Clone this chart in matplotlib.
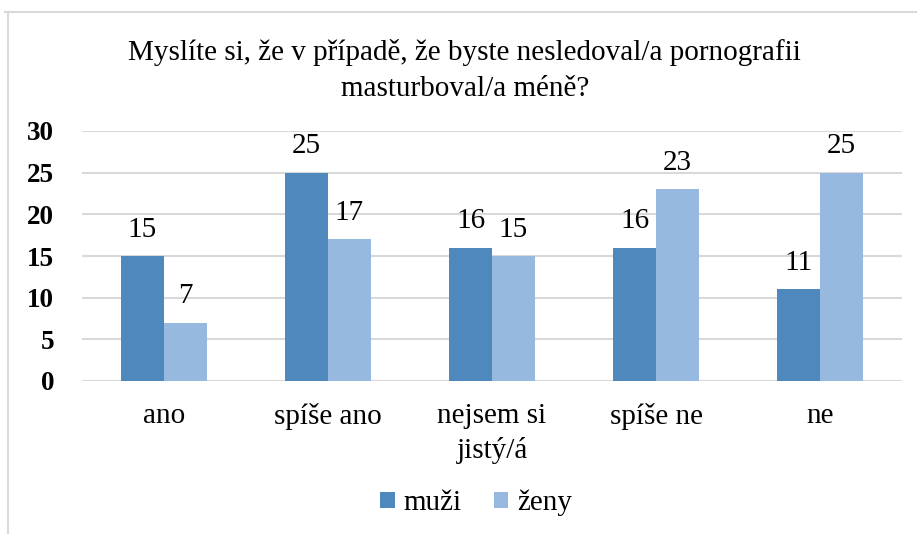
import numpy as np
import matplotlib.pyplot as plt
from matplotlib.lines import Line2D

# === Data ===
categories = ["ano", "spíše ano", "nejsem si\njistý/á", "spíše ne", "ne"]
muzi = [15, 25, 16, 16, 11]
zeny = [7, 17, 15, 23, 25]
yticks = [0, 5, 10, 15, 20, 25, 30]

TITLE = "Myslíte si, že v případě, že byste nesledoval/a pornografii\nmasturboval/a méně?"
C_MUZI = "#4F88BD"
C_ZENY = "#97B8DF"
GRID = "#D9D9D9"
FS = 21

plt.rcParams['font.family'] = ['Liberation Serif', 'DejaVu Serif']

fig = plt.figure(figsize=(9.17, 5.35), dpi=100)
ax = fig.add_axes([82 / 917, 1 - 381 / 535, 820 / 917, 250 / 535])

x = np.arange(len(categories))
w = 0.262
b1 = ax.bar(x - w / 2, muzi, w, color=C_MUZI, label="muži", zorder=3)
b2 = ax.bar(x + w / 2, zeny, w, color=C_ZENY, label="ženy", zorder=3)

for bars, vals in ((b1, muzi), (b2, zeny)):
    for rect, v in zip(bars, vals):
        ax.text(rect.get_x() + rect.get_width() / 2, v + 1.6, str(v),
                ha="center", va="bottom", fontsize=FS)

ax.set_xlim(-0.5, len(categories) - 0.5)
ax.set_ylim(0, 30)
ax.set_yticks(yticks)
ax.set_yticklabels([str(t) for t in yticks], fontsize=19.5, fontweight="bold")
ax.set_xticks(x)
ax.set_xticklabels(categories, fontsize=FS, linespacing=1.35)
ax.tick_params(axis="both", length=0)
ax.tick_params(axis="x", pad=16)
ax.tick_params(axis="y", pad=20)
ax.grid(axis="y", color=GRID, linewidth=1.5, zorder=0)
for s in ax.spines.values():
    s.set_visible(False)

fig.text(0.507, 1 - 70 / 535, TITLE, ha="center", va="center", fontsize=FS,
         linespacing=1.5)

fig.legend(handles=[b1, b2], loc="center", bbox_to_anchor=(476 / 917, 1 - 503 / 535),
           ncol=2, frameon=False, fontsize=FS, handlelength=0.5, handleheight=0.5,
           handletextpad=0.3, columnspacing=1.1)

# chart frame (top and left edges)
fig.add_artist(Line2D([5 / 917, 1], [1 - 12 / 535] * 2, color=GRID, linewidth=1.5))
fig.add_artist(Line2D([8 / 917] * 2, [1 - 12 / 535, 1 - 533 / 535], color=GRID, linewidth=1.5))

fig.savefig("out.png", dpi=100)
